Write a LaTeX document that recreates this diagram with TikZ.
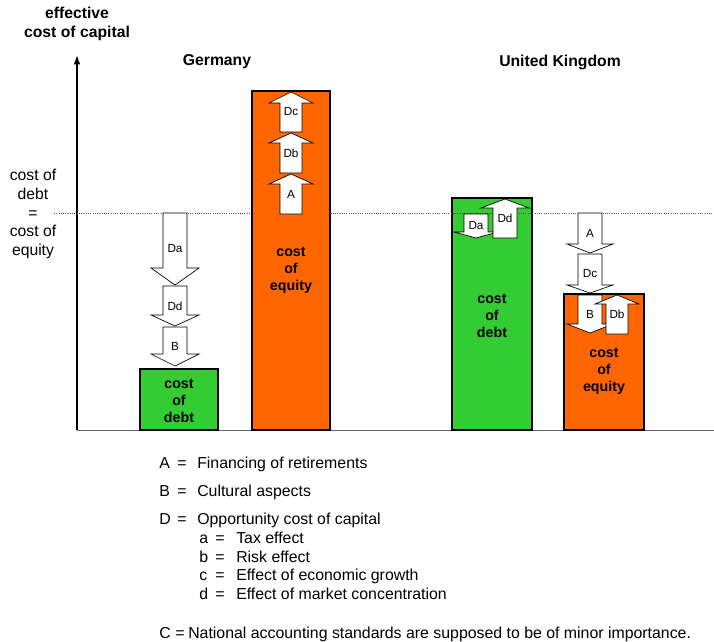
\documentclass[tikz,border=0pt]{standalone}
\usepackage{fontspec}
\setmainfont{Liberation Sans}
\usetikzlibrary{arrows.meta}
\usepackage{xcolor}
\definecolor{debtgreen}{RGB}{51,204,51}
\definecolor{equityorange}{RGB}{255,102,0}

\tikzset{
  bar/.style={draw=black,line width=2pt},
  barlabel/.style={font=\fontsize{10.7}{12.8}\selectfont\bfseries,align=center,inner sep=0pt},
  effect/.style={draw=black,fill=white,line width=0.5pt},
  effectlabel/.style={font=\fontsize{8.8}{10}\selectfont,inner sep=0pt},
  heading/.style={font=\fontsize{11.8}{14.2}\selectfont\bfseries,align=center,inner sep=0pt},
  legend/.style={font=\fontsize{11.9}{14}\selectfont,anchor=base west,inner sep=0pt},
}

% block arrow: name, centre x, half shaft, half head, tail y, head y, tip y, label
\newcommand{\effectarrow}[8]{%
  \draw[effect] (#2-#3,#5) -- (#2+#3,#5) -- (#2+#3,#6) -- (#2+#4,#6) -- (#2,#7)
    -- (#2-#4,#6) -- (#2-#3,#6) -- cycle;
  \node[effectlabel] (#1) at (#2,{(#5+#7)/2}) {#8};}

\begin{document}
\begin{tikzpicture}[x=0.75pt,y=-0.75pt]
  \useasboundingbox (0,0) rectangle (714,642);

  % axes
  \draw[black!60,line width=0.6pt] (77,430) -- (714,430);
  \node[heading] (yname) at (77,24) {effective\\cost of capital};
  \coordinate (origin) at (77,430);
  \coordinate (ytop) at (77,55);
  \draw[line width=1.2pt,-{Latex[length=7pt,width=5pt]}] (origin) -- (ytop);

  \node[heading] (germany) at (217,62) {Germany};
  \node[heading] (uk) at (560,62) {United Kingdom};

  \node[font=\fontsize{11.8}{14.2}\selectfont,align=center,inner sep=0pt] (parity) at (33,214)
    {cost of\\debt\\=\\cost of\\equity};

  % UK debt sits under the parity line
  \draw[bar,fill=debtgreen] (452,198) rectangle (532,430);
  \draw[black!70,line width=0.7pt,densely dotted] (54,213) -- (714,213);

  \draw[bar,fill=debtgreen] (140,369) rectangle (218,430);
  \draw[bar,fill=equityorange] (252,91) rectangle (330,430);
  \draw[bar,fill=equityorange] (564,294) rectangle (644,430);

  \node[barlabel] (deDebt) at (179,401) {cost\\of\\debt};
  \node[barlabel] (deEquity) at (291,270) {cost\\of\\equity};
  \node[barlabel] (ukDebt) at (492,316) {cost\\of\\debt};
  \node[barlabel] (ukEquity) at (604,371) {cost\\of\\equity};

  % Germany
  \effectarrow{deDa}{175}{12}{24}{213}{268}{285}{Da}
  \effectarrow{deDd}{175}{12}{24}{286}{315}{326}{Dd}
  \effectarrow{deB}{175}{12}{24}{327}{354}{366}{B}
  \effectarrow{deA}{291}{11}{22}{214}{184}{174}{A}
  \effectarrow{deDb}{291}{11}{22}{173}{143}{133}{Db}
  \effectarrow{deDc}{291}{11}{22}{132}{103}{92}{Dc}

  % United Kingdom
  \effectarrow{ukDa}{476}{12}{22}{214}{232}{238}{Da}
  \effectarrow{ukDd}{505}{12}{24}{238}{208}{199}{Dd}
  \effectarrow{ukA}{590}{12}{23}{213}{244}{253}{A}
  \effectarrow{ukDc}{590}{12}{23}{254}{285}{293}{Dc}
  \effectarrow{ukB}{590}{12}{23}{295}{324}{333}{B}
  \effectarrow{ukDb}{617}{11}{22}{334}{304}{295}{Db}

  % legend
  \foreach \k/\y/\txt in {A/468/Financing of retirements,B/496/Cultural aspects,
      D/524/Opportunity cost of capital}{
    \node[legend] (leg\k) at (159,\y) {\k};
    \node[legend] at (177,\y) {=};
    \node[legend] (txt\k) at (197,\y) {\txt};
  }
  \foreach \k/\y/\txt in {a/543/Tax effect,b/562/Risk effect,
      c/580/Effect of economic growth,d/599/Effect of market concentration}{
    \node[legend] (leg\k) at (199,\y) {\k};
    \node[legend] at (215,\y) {=};
    \node[legend] (txt\k) at (236,\y) {\txt};
  }
  \node[legend] (legC) at (159,638) {C};
  \node[legend] at (175,638) {=};
  \node[legend] (txtC) at (188,638)
    {National accounting standards are supposed to be of minor importance.};
\end{tikzpicture}
\end{document}
